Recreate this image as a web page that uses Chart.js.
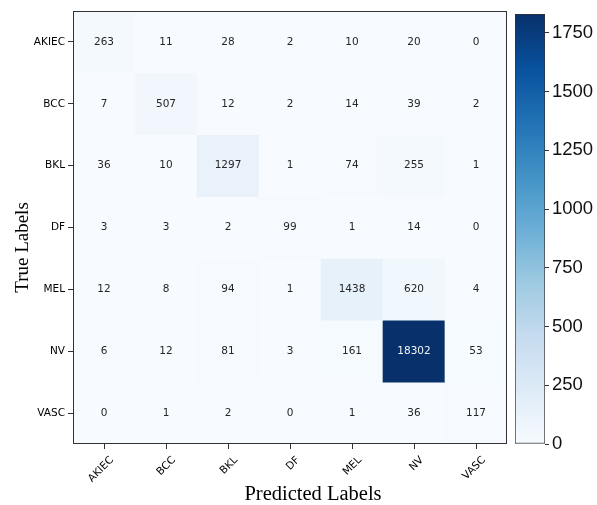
<!DOCTYPE html>
<html>
<head>
<meta charset="utf-8">
<script src="https://cdn.jsdelivr.net/npm/chart.js@4.4.1/dist/chart.umd.min.js"></script>
<style>
    html, body { margin: 0; padding: 0; background: #fff; }
    #wrap { position: relative; width: 597px; height: 505px; }
    #heat { position: absolute; left: 0; top: 0; }
    #cbar { position: absolute; left: 500px; top: 0; }
</style>
</head>
<body>
<div id="wrap">
    <canvas id="heat" width="597" height="505"></canvas>
    <canvas id="cbar" width="97" height="505"></canvas>
</div>
<script>
const predictedLabels = ['AKIEC', 'BCC', 'BKL', 'DF', 'MEL', 'NV', 'VASC'];
const trueLabels = ['AKIEC', 'BCC', 'BKL', 'DF', 'MEL', 'NV', 'VASC'];

// one row per true label
const rowAKIEC = [263, 11, 28, 2, 10, 20, 0];
const rowBCC = [7, 507, 12, 2, 14, 39, 2];
const rowBKL = [36, 10, 1297, 1, 74, 255, 1];
const rowDF = [3, 3, 2, 99, 1, 14, 0];
const rowMEL = [12, 8, 94, 1, 1438, 620, 4];
const rowNV = [6, 12, 81, 3, 161, 18302, 53];
const rowVASC = [0, 1, 2, 0, 1, 36, 117];

const colorbarMax = 1830;
const colorbarTicks = [0, 250, 500, 750, 1000, 1250, 1500, 1750];

const xTitle = 'Predicted Labels';
const yTitle = 'True Labels';

const matrix = [rowAKIEC, rowBCC, rowBKL, rowDF, rowMEL, rowNV, rowVASC];
const vmax = Math.max(...matrix.flat());

// matplotlib "Blues"
const bluesStops = ['#f7fbff', '#deebf7', '#c6dbef', '#9ecae1', '#6baed6', '#4292c6', '#2171b5', '#08519c', '#08306b'];

function hexToRgb(h) {
    return [parseInt(h.slice(1, 3), 16), parseInt(h.slice(3, 5), 16), parseInt(h.slice(5, 7), 16)];
}

function blues(t) {
    t = Math.max(0, Math.min(1, t));
    const pos = t * (bluesStops.length - 1);
    const i = Math.min(Math.floor(pos), bluesStops.length - 2);
    const f = pos - i;
    const a = hexToRgb(bluesStops[i]);
    const b = hexToRgb(bluesStops[i + 1]);
    const c = a.map((v, k) => Math.round(v + (b[k] - v) * f));
    return `rgb(${c[0]}, ${c[1]}, ${c[2]})`;
}

const cellText = {
    id: 'cellText',
    afterDatasetsDraw(chart) {
        const ctx = chart.ctx;
        ctx.save();
        ctx.font = '10.5px "DejaVu Sans"';
        ctx.textAlign = 'center';
        ctx.textBaseline = 'middle';
        chart.data.datasets.forEach((ds, r) => {
            chart.getDatasetMeta(r).data.forEach((bar, c) => {
                const v = matrix[r][c];
                ctx.fillStyle = v > vmax / 2 ? '#f0f4f8' : '#262626';
                ctx.fillText(String(v), bar.x, (bar.y + bar.base) / 2);
            });
        });
        ctx.restore();
    }
};

// frame round the plot area + the two axis titles (the titles sit a bit off-centre in the original)
const frameAndTitles = {
    id: 'frameAndTitles',
    afterDraw(chart) {
        const { ctx, chartArea: a } = chart;
        ctx.save();
        ctx.strokeStyle = '#333';
        ctx.lineWidth = 1;
        ctx.strokeRect(Math.round(a.left) + 0.5, Math.round(a.top) + 0.5,
            Math.round(a.right - a.left) - 1, Math.round(a.bottom - a.top) - 1);

        ctx.fillStyle = '#000';
        ctx.textAlign = 'center';
        ctx.textBaseline = 'alphabetic';
        ctx.font = '20.5px "Liberation Serif"';
        ctx.fillText(xTitle, (a.left + a.right) / 2 + 23, 500);

        ctx.translate(28, (a.top + a.bottom) / 2 + 20);
        ctx.rotate(-Math.PI / 2);
        ctx.font = '19px "Liberation Serif"';
        ctx.fillText(yTitle, 0, 0);
        ctx.restore();
    }
};

new Chart(document.getElementById('heat'), {
    type: 'bar',
    data: {
        labels: predictedLabels,
        datasets: matrix.map((row, r) => ({
            label: trueLabels[r],
            data: row.map(() => [r, r + 1]),
            backgroundColor: row.map(v => blues(v / vmax)),
            borderWidth: 0,
            barPercentage: 1,
            categoryPercentage: 1,
            grouped: false
        }))
    },
    options: {
        responsive: false,
        animation: false,
        layout: { padding: { top: 11, right: 90, bottom: 0, left: 0 } },
        scales: {
            x: {
                afterFit: s => { s.height = 61; },
                grid: { offset: false, drawOnChartArea: false, tickLength: 5, color: '#333' },
                border: { display: false },
                ticks: {
                    minRotation: 45,
                    maxRotation: 45,
                    labelOffset: 8,
                    padding: 5,
                    color: '#000',
                    font: { family: 'DejaVu Sans', size: 10.5 }
                }
            },
            y: {
                min: 0,
                max: 7,
                reverse: true,
                afterFit: s => { s.width = 73; },
                afterBuildTicks: s => { s.ticks = trueLabels.map((_, i) => ({ value: i + 0.5 })); },
                grid: { drawOnChartArea: false, tickLength: 5, color: '#333' },
                border: { display: false },
                ticks: {
                    padding: 3,
                    color: '#000',
                    font: { family: 'DejaVu Sans', size: 10.5 },
                    callback: (value, index) => trueLabels[index]
                }
            }
        },
        plugins: {
            legend: { display: false },
            tooltip: { enabled: false }
        }
    },
    plugins: [cellText, frameAndTitles]
});

new Chart(document.getElementById('cbar'), {
    type: 'bar',
    data: {
        labels: [''],
        datasets: [{
            data: [[0, colorbarMax]],
            backgroundColor: (context) => {
                const { ctx, chartArea } = context.chart;
                if (!chartArea) {
                    return null;
                }
                const gradient = ctx.createLinearGradient(0, chartArea.bottom, 0, chartArea.top);
                bluesStops.forEach((c, i) => gradient.addColorStop(i / (bluesStops.length - 1), c));
                return gradient;
            },
            borderColor: '#333',
            borderWidth: 1,
            borderSkipped: false,
            barPercentage: 1,
            categoryPercentage: 1
        }]
    },
    options: {
        responsive: false,
        animation: false,
        layout: { padding: { top: 11, right: 0, bottom: 61, left: 15 } },
        scales: {
            x: { display: false },
            y: {
                position: 'right',
                min: 0,
                max: colorbarMax,
                afterFit: s => { s.width = 52; },
                afterBuildTicks: s => { s.ticks = colorbarTicks.map(v => ({ value: v })); },
                grid: { drawOnChartArea: false, tickLength: 4, color: '#333' },
                border: { display: false },
                ticks: {
                    padding: 3,
                    color: '#111',
                    font: { family: 'Liberation Sans', size: 18.5 },
                    callback: (value) => String(value)
                }
            }
        },
        plugins: {
            legend: { display: false },
            tooltip: { enabled: false }
        }
    }
});
</script>
</body>
</html>
